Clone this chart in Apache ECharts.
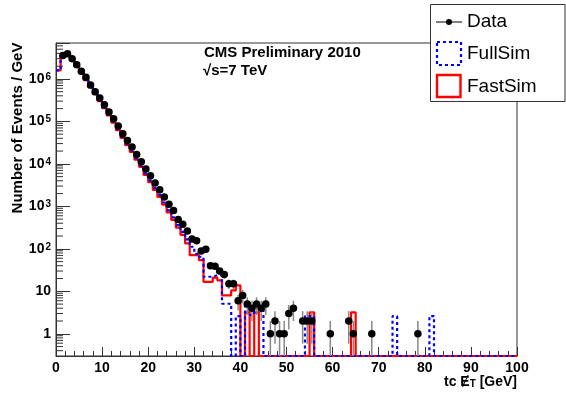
<!DOCTYPE html>
<html><head><meta charset="utf-8">
<script src="https://cdn.jsdelivr.net/npm/echarts@6/dist/echarts.min.js"></script>
<style>html,body{margin:0;padding:0;background:#fff}#c{width:566px;height:393px}</style>
</head><body><div id="c"></div>
<script>
// bin i covers [i, i+1) GeV
const dataCounts = [
  null, 3.55e6, 3.9e6, 3.0e6, 2.14e6, 1.51e6, 1.1e6, 7.2e5, 5.0e5, 3.55e5,
  2.45e5, 1.66e5, 1.15e5, 7.8e4, 5.1e4, 3.55e4, 2.5e4, 1.66e4, 1.12e4, 7600,
  5250, 3550, 2450, 1660, 1120, 795, 490, 380, 263, 170,
  155, 89, 98, 40, 39, 30, 25, 15, 15, 6,
  8, 5, 4, 5, 4, 5, 1, 2, 1, 1,
  3, 4, 0, 2, 2, 2, 0, 0, 0, 1,
  0, 0, 0, 2, 1, 0, 0, 0, 1, 0,
  0, 0, 0, 0, 0, 0, 0, 0, 1, 0,
  0, 0, 0, 0, 0, 0, 0, 0, 0, 0,
  0, 0, 0, 0, 0, 0, 0, 0, 0, 0
];
const fullSim = [
  1.58e6, 3.55e6, 3.8e6, 2.88e6, 2.0e6, 1.38e6, 9.8e5, 6.6e5, 4.57e5, 3.16e5,
  2.14e5, 1.45e5, 1.0e5, 6.6e4, 4.37e4, 2.95e4, 2.04e4, 1.35e4, 9100, 6000,
  4070, 2700, 1860, 1230, 810, 550, 363, 250, 166, 112,
  76, 65, 22, 22, 24, 24, 5.1, 5.1, 0, 2.6,
  0, 5, 2.8, 5, 5, 0, 0, 0, 0, 0,
  0, 0, 0, 0, 2.6, 2.6, 0, 0, 0, 0,
  0, 0, 0, 0, 0, 0, 0, 0, 0, 0,
  0, 0, 0, 2.6, 0, 0, 0, 0, 0, 0,
  0, 2.6, 0, 0, 0, 0, 0, 0, 0, 0,
  0, 0, 0, 0, 0, 0, 0, 0, 0, 0
];
const fastSim = [
  1.58e6, 3.47e6, 3.72e6, 2.82e6, 1.95e6, 1.35e6, 9.3e5, 6.3e5, 4.37e5, 3.0e5,
  2.04e5, 1.38e5, 9.3e4, 6.2e4, 4.07e4, 2.75e4, 1.9e4, 1.26e4, 8500, 5500,
  3700, 2450, 1660, 1100, 720, 480, 316, 214, 135, 71,
  71, 54, 16.6, 16.6, 21, 18, 8, 8, 10.5, 13.8,
  0, 3.2, 0, 3.2, 0, 0, 0, 0, 0, 0,
  0, 0, 0, 0, 0, 3.2, 0, 0, 0, 0,
  0, 0, 0, 0, 3.2, 0, 0, 0, 0, 0,
  0, 0, 0, 0, 0, 0, 0, 0, 0, 0,
  0, 0, 0, 0, 0, 0, 0, 0, 0, 0,
  0, 0, 0, 0, 0, 0, 0, 0, 0, 0
];
const legendNames = ['Data', 'FullSim', 'FastSim'];
const X_MIN = 0, X_MAX = 100, X_STEP = 10;
const Y_MIN = 0.3, Y_MAX = 7e6;

const FONT = '"Liberation Sans", Arial, Helvetica, sans-serif';

function histLine(arr) {
  const pts = arr.map((v, i) => [i, Math.max(v || 0, Y_MIN)]);
  pts.push([arr.length, Math.max(arr[arr.length - 1] || 0, Y_MIN)]);
  return pts;
}
const points = [], errs = [];
dataCounts.forEach((n, i) => {
  if (n > 0) {
    points.push([i + 0.5, n]);
    const s = Math.sqrt(n);
    errs.push([i + 0.5, Math.max(n - s, Y_MIN), n + s]);
  }
});
const minorVals = [];
for (let e = -1; e <= 6; e++) for (let k = 2; k <= 9; k++) {
  const v = k * Math.pow(10, e);
  if (v > Y_MIN * 1.01 && v < Y_MAX) minorVals.push([0, v]);
}

const chart = echarts.init(document.getElementById('c'), null, {renderer: 'canvas'});
const axisColor = '#333';
const option = {
  animation: false,
  grid: {left: 56, right: 49, top: 43, bottom: 37, show: true, borderColor: axisColor, borderWidth: 1},
  xAxis: {
    type: 'value', min: X_MIN, max: X_MAX, interval: X_STEP,
    axisLine: {onZero: false, lineStyle: {color: axisColor}},
    axisTick: {inside: true, length: 9, lineStyle: {color: axisColor}},
    minorTick: {show: true, splitNumber: 5, length: 5, lineStyle: {color: axisColor}},
    splitLine: {show: false},
    axisLabel: {margin: 5, color: '#000', fontSize: 14, fontWeight: 'bold', fontFamily: FONT}
  },
  yAxis: {
    type: 'log', logBase: 10, min: Y_MIN, max: Y_MAX, splitNumber: 7,
    axisLine: {show: true, lineStyle: {color: axisColor}},
    axisTick: {inside: true, length: 14, lineStyle: {color: axisColor}},
    splitLine: {show: false},
    axisLabel: {
      margin: 5, color: '#000', fontFamily: FONT,
      formatter: function (v) {
        const e = Math.log10(v);
        const r = Math.round(e);
        if (Math.abs(e - r) > 1e-6) return '';
        if (r === 0) return '{b|1}';
        if (r === 1) return '{b|10}';
        return '{b|10}{sup|' + r + '}';
      },
      rich: {
        b: {fontSize: 14, fontWeight: 'bold', fontFamily: FONT, color: '#000', lineHeight: 14, verticalAlign: 'bottom'},
        sup: {fontSize: 10, fontWeight: 'bold', fontFamily: FONT, color: '#000', lineHeight: 10, verticalAlign: 'top', padding: [0, 0, 7, 1]}
      }
    }
  },
  series: [
    {
      type: 'custom', name: 'minorY', clip: false, z: 3, silent: true,
      data: minorVals,
      renderItem: function (params, api) {
        const p = api.coord([api.value(0), api.value(1)]);
        return {type: 'line', shape: {x1: p[0], y1: p[1], x2: p[0] + 7, y2: p[1]}, style: {stroke: axisColor, lineWidth: 1}};
      }
    },
    {
      type: 'line', name: legendNames[2], data: histLine(fastSim), step: 'end',
      showSymbol: false, symbol: 'none', z: 4,
      lineStyle: {color: '#ff0000', width: 2.2}
    },
    {
      type: 'line', name: legendNames[1], data: histLine(fullSim), step: 'end',
      showSymbol: false, symbol: 'none', z: 5,
      lineStyle: {color: '#0000ff', width: 2.2, type: [3, 3]}
    },
    {
      type: 'custom', name: 'errors', clip: true, z: 6, silent: true,
      data: errs,
      renderItem: function (params, api) {
        const a = api.coord([api.value(0), api.value(1)]);
        const b = api.coord([api.value(0), api.value(2)]);
        return {type: 'line', shape: {x1: a[0], y1: a[1], x2: b[0], y2: b[1]}, style: {stroke: '#888', lineWidth: 1.5}};
      }
    },
    {
      type: 'scatter', name: legendNames[0], data: points, symbol: 'circle', symbolSize: 7.5, z: 7,
      itemStyle: {color: '#000', opacity: 1}
    }
  ],
  graphic: [
    {type: 'text', left: 204, top: 45, z: 50, style: {text: 'CMS Preliminary 2010', font: 'bold 15px ' + FONT, fill: '#000'}},
    {type: 'text', left: 203, top: 63, z: 50, style: {text: '\u221As=7 TeV', font: 'bold 15px ' + FONT, fill: '#000'}},
    {type: 'text', x: 18, y: 128, rotation: Math.PI / 2, z: 50,
      style: {text: 'Number of Events / GeV', font: 'bold 15px ' + FONT, fill: '#000', align: 'center', verticalAlign: 'middle'}},
    {type: 'text', x: 517, y: 382, z: 50,
      style: {
        text: '{n|tc \u0246}{sub|T}{n| [GeV]}', align: 'right', verticalAlign: 'middle',
        rich: {
          n: {font: 'bold 14px ' + FONT, fill: '#000', lineHeight: 14, verticalAlign: 'top'},
          sub: {font: 'bold 10px ' + FONT, fill: '#000', lineHeight: 10, verticalAlign: 'bottom', padding: [6, 0, 0, 0]}
        }
      }},
    {type: 'rect', z: 60, shape: {x: 430.5, y: 4.5, width: 134.5, height: 97}, style: {fill: '#fff', stroke: '#333', lineWidth: 1}},
    {type: 'line', z: 61, shape: {x1: 436, y1: 22, x2: 462, y2: 22}, style: {stroke: '#000', lineWidth: 1}},
    {type: 'circle', z: 61, shape: {cx: 449, cy: 22, r: 3}, style: {fill: '#000'}},
    {type: 'text', z: 61, x: 467, y: 22, style: {text: legendNames[0], font: '19px ' + FONT, fill: '#000', verticalAlign: 'middle'}},
    {type: 'rect', z: 61, shape: {x: 437, y: 42, width: 24, height: 23}, style: {fill: 'none', stroke: '#0000ff', lineWidth: 2.2, lineDash: [3, 3]}},
    {type: 'text', z: 61, x: 467, y: 54, style: {text: legendNames[1], font: '19px ' + FONT, fill: '#000', verticalAlign: 'middle'}},
    {type: 'rect', z: 61, shape: {x: 437, y: 75, width: 23.5, height: 22}, style: {fill: 'none', stroke: '#ff0000', lineWidth: 2.4}},
    {type: 'text', z: 61, x: 467, y: 87, style: {text: legendNames[2], font: '19px ' + FONT, fill: '#000', verticalAlign: 'middle'}}
  ]
};
chart.setOption(option);
</script>
</body></html>
